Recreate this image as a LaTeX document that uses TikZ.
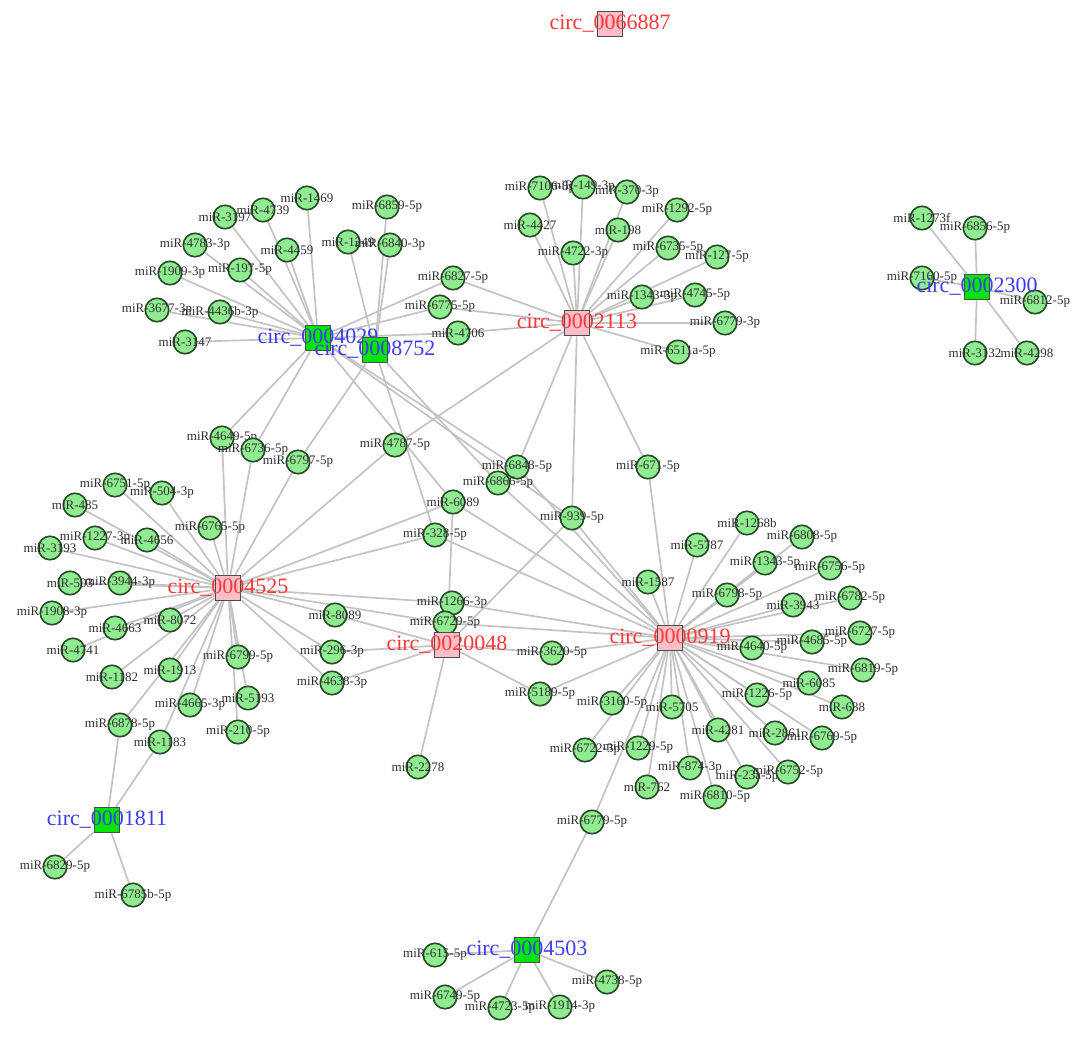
\documentclass[tikz,border=0pt]{standalone}
\usepackage{fontspec}
\setmainfont{Liberation Serif}
\pgfdeclarelayer{bg}
\pgfsetlayers{bg,main}
\definecolor{mirfill}{RGB}{144,236,144}
\definecolor{mirdraw}{RGB}{40,75,40}
\definecolor{pinkfill}{RGB}{255,190,200}
\definecolor{greenfill}{RGB}{0,230,0}
\definecolor{redtxt}{RGB}{255,55,55}
\definecolor{bluetxt}{RGB}{60,60,240}
\definecolor{edgecol}{RGB}{195,195,195}
\tikzset{
  mir/.style={circle, draw=mirdraw, line width=1.6pt, fill=mirfill, minimum size=23.5pt, inner sep=0pt},
  mirlbl/.style={font=\fontsize{13}{13}\selectfont, text=black!82, inner sep=0pt},
  hub/.style={rectangle, draw=black!70, line width=1.6pt, minimum size=25pt, inner sep=0pt},
  hubR/.style={hub, fill=pinkfill},
  hubG/.style={hub, fill=greenfill},
  lblR/.style={font=\fontsize{22}{22}\selectfont, text=redtxt, inner sep=0pt},
  lblG/.style={font=\fontsize{22}{22}\selectfont, text=bluetxt, inner sep=0pt},
  edge/.style={draw=edgecol, line width=1.7pt}
}
\newcommand\mirn[4]{\node[mir,label={[mirlbl]center:#4}] (#1) at (#2,#3) {};}
\newcommand\hubr[4]{\node[hubR,label={[lblR]center:#4}] (#1) at (#2,#3) {};}
\newcommand\hubg[4]{\node[hubG,label={[lblG]center:#4}] (#1) at (#2,#3) {};}
\begin{document}
\begin{tikzpicture}[x=1pt,y=-1pt]
\useasboundingbox (0,0) rectangle (1087,1038);
% hubs
\hubr{h66887}{610}{24}{circ\_0066887}
% cluster 4029
\mirn{m3197}{225}{217}{miR-3197}
\mirn{m4739}{263}{210}{miR-4739}
\mirn{m1469}{307}{198}{miR-1469}
\mirn{m6859}{387}{207}{miR-6859-5p}
\mirn{m4783}{195}{245}{miR-4783-3p}
\mirn{m4459}{287}{250}{miR-4459}
\mirn{m1249}{348}{242}{miR-1249}
\mirn{m6840}{390}{245}{miR-6840-3p}
\mirn{m1909}{170}{273}{miR-1909-3p}
\mirn{m197}{240}{270}{miR-197-5p}
\mirn{m3677}{157}{310}{miR-3677-3p}
\mirn{m4436}{220}{312}{miR-4436b-3p}
\mirn{m3147}{185}{342}{miR-3147}
\mirn{m6827}{453}{278}{miR-6827-5p}
\mirn{m6775}{440}{307}{miR-6775-5p}
\mirn{m4706}{458}{333}{miR-4706}
% cluster 2113
\mirn{m7106}{540}{188}{miR-7106-5p}
\mirn{m149}{583}{187}{miR-149-3p}
\mirn{m370}{627}{192}{miR-370-3p}
\mirn{m4427}{530}{225}{miR-4427}
\mirn{m198}{618}{230}{miR-198}
\mirn{m1292}{677}{210}{miR-1292-5p}
\mirn{m4722}{573}{253}{miR-4722-3p}
\mirn{m6735}{668}{248}{miR-6735-5p}
\mirn{m127}{717}{257}{miR-127-5p}
\mirn{m1343a}{642}{297}{miR-1343-3p}
\mirn{m4745}{695}{295}{miR-4745-5p}
\mirn{m6779a}{725}{323}{miR-6779-3p}
\mirn{m6511}{678}{352}{miR-6511a-5p}
% 2300
\mirn{m1273}{922}{218}{miR-1273f}
\mirn{m6856}{975}{228}{miR-6856-5p}
\mirn{m7160}{922}{278}{miR-7160-5p}
\mirn{m6812}{1035}{302}{miR-6812-5p}
\mirn{m3132}{975}{353}{miR-3132}
\mirn{m4298}{1027}{353}{miR-4298}
% 4525 cluster
\mirn{m4649}{222}{438}{miR-4649-5p}
\mirn{m6736}{253}{450}{miR-6736-5p}
\mirn{m6797}{298}{462}{miR-6797-5p}
\mirn{m4787}{395}{445}{miR-4787-5p}
\mirn{m6751}{115}{485}{miR-6751-5p}
\mirn{m504}{162}{493}{miR-504-3p}
\mirn{m485}{75}{505}{miR-485}
\mirn{m6765}{210}{528}{miR-6765-5p}
\mirn{m1227}{95}{538}{miR-1227-3p}
\mirn{m4656}{147}{540}{miR-4656}
\mirn{m3193}{50}{548}{miR-3193}
\mirn{m503}{70}{583}{miR-503}
\mirn{m3944}{120}{583}{miR-3944-3p}
\mirn{m1908}{52}{613}{miR-1908-3p}
\mirn{m4663}{115}{628}{miR-4663}
\mirn{m8072}{170}{620}{miR-8072}
\mirn{m4741}{73}{650}{miR-4741}
\mirn{m1182}{112}{677}{miR-1182}
\mirn{m1913}{170}{670}{miR-1913}
\mirn{m6799}{238}{657}{miR-6799-5p}
\mirn{m4665}{190}{705}{miR-4665-3p}
\mirn{m5193}{248}{698}{miR-5193}
\mirn{m210}{238}{732}{miR-210-5p}
\mirn{m6878}{120}{725}{miR-6878-5p}
\mirn{m1183}{160}{742}{miR-1183}
\mirn{m6829}{55}{867}{miR-6829-5p}
\mirn{m6785}{133}{895}{miR-6785b-5p}
% middle
\mirn{m6848}{517}{467}{miR-6848-5p}
\mirn{m6866}{498}{483}{miR-6866-5p}
\mirn{m6089}{453}{502}{miR-6089}
\mirn{m328}{435}{535}{miR-328-5p}
\mirn{m1266}{452}{603}{miR-1266-3p}
\mirn{m6729}{445}{623}{miR-6729-5p}
\mirn{m8089}{335}{615}{miR-8089}
\mirn{m296}{332}{652}{miR-296-3p}
\mirn{m4638}{332}{683}{miR-4638-3p}
\mirn{m2278}{418}{767}{miR-2278}
\mirn{m671}{648}{467}{miR-671-5p}
\mirn{m939}{572}{518}{miR-939-5p}
\mirn{m3620}{552}{653}{miR-3620-5p}
\mirn{m5189}{540}{694}{miR-5189-5p}
% 919 cluster
\mirn{m1268}{747}{523}{miR-1268b}
\mirn{m6808}{802}{537}{miR-6808-5p}
\mirn{m5787}{697}{545}{miR-5787}
\mirn{m1343b}{765}{563}{miR-1343-5p}
\mirn{m6756}{830}{568}{miR-6756-5p}
\mirn{m1587}{648}{582}{miR-1587}
\mirn{m6798}{727}{595}{miR-6798-5p}
\mirn{m3943}{793}{605}{miR-3943}
\mirn{m6782}{850}{598}{miR-6782-5p}
\mirn{m6727}{860}{633}{miR-6727-5p}
\mirn{m4685}{812}{642}{miR-4685-5p}
\mirn{m4640}{752}{648}{miR-4640-5p}
\mirn{m6819}{863}{670}{miR-6819-5p}
\mirn{m6085}{809}{683}{miR-6085}
\mirn{m638}{842}{707}{miR-638}
\mirn{m1226}{757}{695}{miR-1226-5p}
\mirn{m3160}{612}{703}{miR-3160-5p}
\mirn{m5705}{672}{707}{miR-5705}
\mirn{m4281}{718}{730}{miR-4281}
\mirn{m2861}{775}{733}{miR-2861}
\mirn{m6769}{822}{738}{miR-6769-5p}
\mirn{m6722}{585}{750}{miR-6722-3p}
\mirn{m1229}{638}{748}{miR-1229-5p}
\mirn{m874}{690}{768}{miR-874-3p}
\mirn{m23a}{747}{777}{miR-23a-5p}
\mirn{m6752}{788}{772}{miR-6752-5p}
\mirn{m762}{647}{787}{miR-762}
\mirn{m6810}{715}{797}{miR-6810-5p}
\mirn{m6779b}{592}{822}{miR-6779-5p}
% 4503
\mirn{m615}{435}{955}{miR-615-5p}
\mirn{m6749}{445}{997}{miR-6749-5p}
\mirn{m4723}{500}{1008}{miR-4723-5p}
\mirn{m1914}{560}{1007}{miR-1914-3p}
\mirn{m4738}{607}{982}{miR-4738-5p}
% hubs drawn above
\hubg{h4029}{318}{338}{circ\_0004029}
\hubg{h8752}{375}{350}{circ\_0008752}
\hubr{h2113}{577}{323}{circ\_0002113}
\hubg{h2300}{977}{287}{circ\_0002300}
\hubr{h4525}{228}{588}{circ\_0004525}
\hubr{h20048}{447}{645}{circ\_0020048}
\hubr{h919}{670}{638}{circ\_0000919}
\hubg{h1811}{107}{820}{circ\_0001811}
\hubg{h4503}{527}{950}{circ\_0004503}
\begin{pgfonlayer}{bg}
\foreach \m in {m3197,m4739,m1469,m4783,m4459,m1909,m197,m3677,m4436,m3147,m4649,m6736,m6827,m6775,m4706,m6848,m6089,m939}
  \draw[edge] (h4029) -- (\m);
\foreach \m in {m6859,m1249,m6840,m6797,m6866,m328}
  \draw[edge] (h8752) -- (\m);
\foreach \m in {m7106,m149,m370,m4427,m198,m1292,m4722,m6735,m127,m1343a,m4745,m6779a,m6511,m6827,m6775,m4706,m4787,m671,m939,m6848}
  \draw[edge] (h2113) -- (\m);
\foreach \m in {m1273,m6856,m7160,m6812,m3132,m4298}
  \draw[edge] (h2300) -- (\m);
\foreach \m in {m4649,m6736,m6797,m4787,m6751,m504,m485,m6765,m1227,m4656,m3193,m503,m3944,m1908,m4663,m8072,m4741,m1182,m1913,m6799,m4665,m5193,m210,m6878,m1183,m6089,m328,m8089,m296,m4638,m1266,m6729}
  \draw[edge] (h4525) -- (\m);
\foreach \m in {m6878,m1183,m6829,m6785}
  \draw[edge] (h1811) -- (\m);
\foreach \m in {m1266,m6729,m8089,m296,m4638,m3620,m5189,m2278,m6089,m939}
  \draw[edge] (h20048) -- (\m);
\foreach \m in {m1268,m6808,m5787,m1343b,m6756,m1587,m6798,m3943,m6782,m6727,m4685,m4640,m6819,m6085,m638,m1226,m3160,m5705,m4281,m2861,m6769,m6722,m1229,m874,m23a,m6752,m762,m6810,m6779b,m5189,m3620,m671,m939,m6848,m6866,m328,m1266,m6729,m6089}
  \draw[edge] (h919) -- (\m);
\foreach \m in {m615,m6749,m4723,m1914,m4738,m6779b}
  \draw[edge] (h4503) -- (\m);
\end{pgfonlayer}
\end{tikzpicture}
\end{document}
